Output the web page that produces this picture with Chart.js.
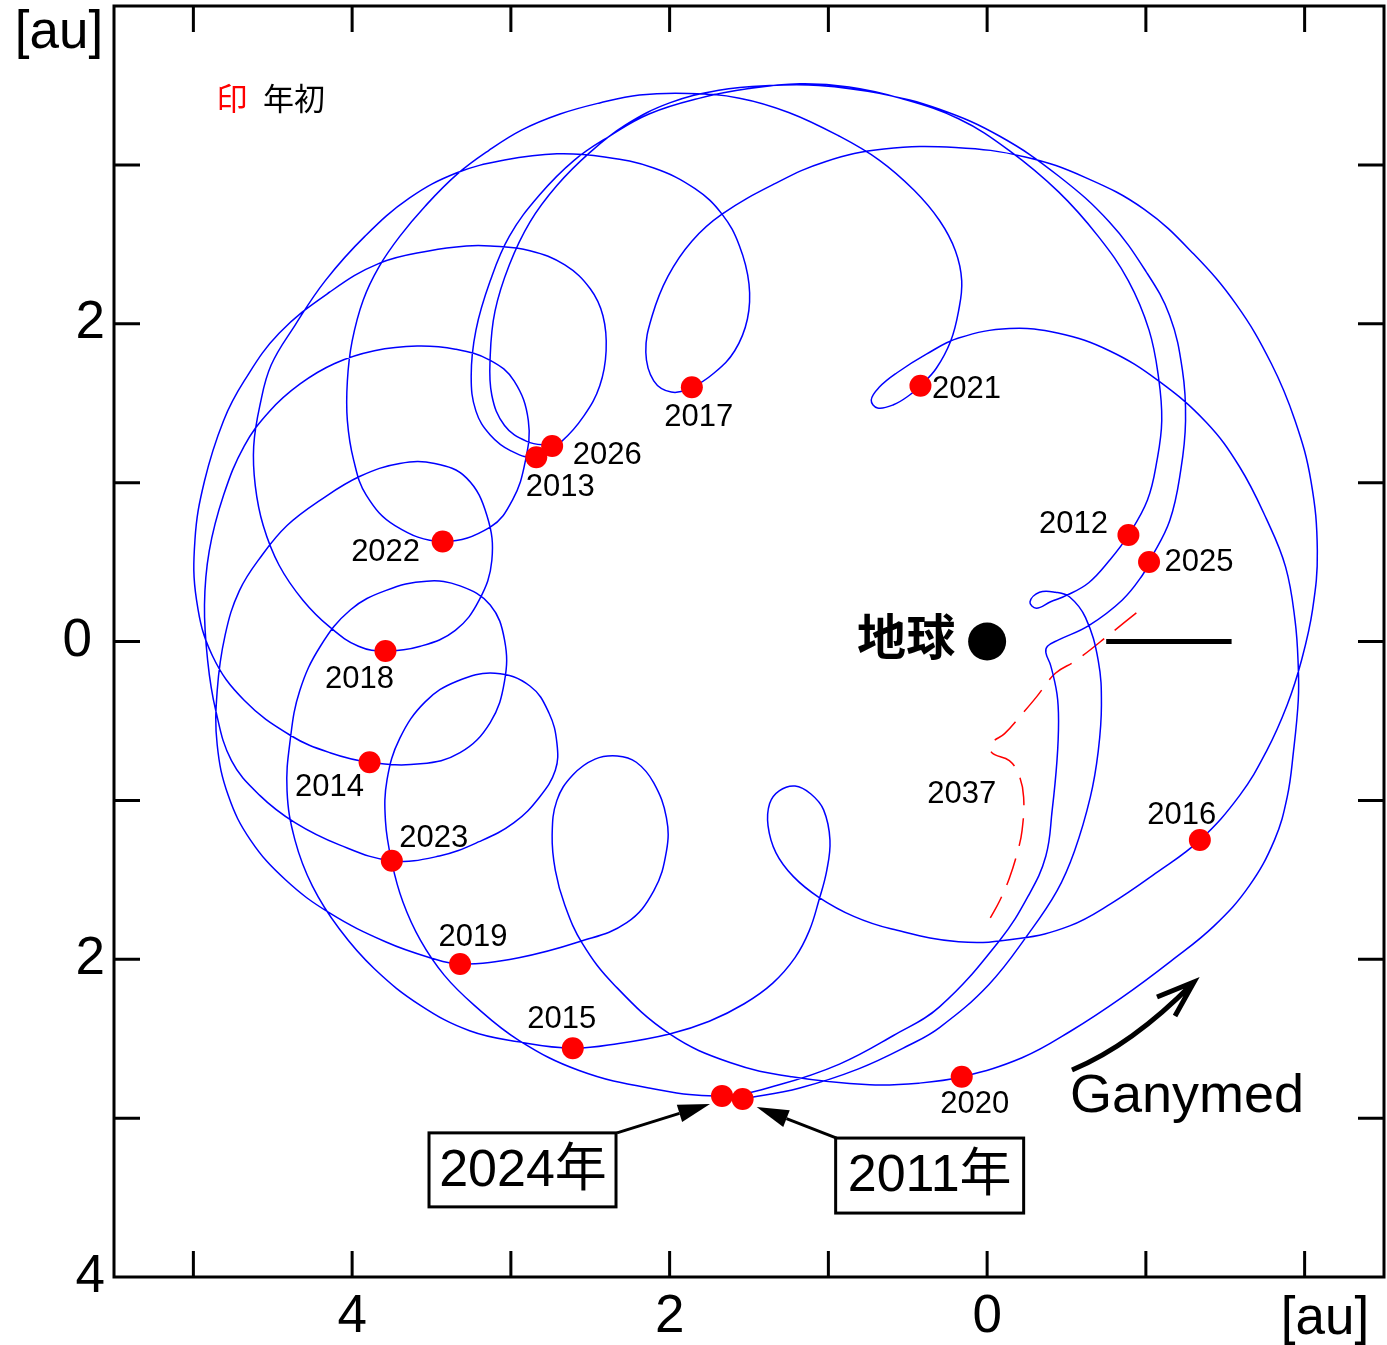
<!DOCTYPE html>
<html>
<head>
<meta charset="utf-8">
<script src="https://cdn.jsdelivr.net/npm/chart.js@4"></script>
<style>
  html, body { margin: 0; padding: 0; background: #fff; overflow: hidden; }
  canvas { display: block; }
</style>
</head>
<body>
<canvas id="orbit" width="1387" height="1345"></canvas>
<script>
// geocentric positions [au], one array per year (Jan 1 -> Jan 1)
const years = ["2011","2012","2013","2014","2015","2016","2017","2018","2019","2020","2021","2022","2023","2024","2025","2026"];
const markerX = [1.54,-0.89,2.84,3.89,2.61,-1.34,1.86,3.79,3.32,0.16,0.42,3.43,3.75,1.67,-1.02,2.74];
const markerY = [-2.88,0.67,1.16,-0.76,-2.56,-1.25,1.60,-0.06,-2.03,-2.74,1.61,0.63,-1.38,-2.86,0.50,1.23];

const path2011 = [[1.54,-2.88],[1.18,-2.81],[0.81,-2.69],[0.49,-2.54],[0.30,-2.43],[-0.01,-2.16],[-0.26,-1.84],[-0.44,-1.57],[-0.55,-1.32],[-0.65,-0.98],[-0.70,-0.69],[-0.72,-0.40],[-0.70,-0.12],[-0.62,0.15],[-0.52,0.28],[-0.43,0.31],[-0.33,0.31],[-0.27,0.25],[-0.31,0.21],[-0.40,0.25],[-0.50,0.29],[-0.64,0.37],[-0.77,0.51],[-0.89,0.67]];
const path2012 = [[-1.01,0.89],[-1.07,1.14],[-1.10,1.39],[-1.08,1.66],[-1.02,1.96],[-0.89,2.27],[-0.70,2.55],[-0.45,2.83],[-0.14,3.09],[0.18,3.29],[0.55,3.42],[0.87,3.49],[1.18,3.51],[1.50,3.48],[1.81,3.42],[2.13,3.32],[2.38,3.18],[2.60,3.03],[2.82,2.81],[3.01,2.55],[3.13,2.27],[3.22,1.96],[3.25,1.67],[3.22,1.45],[3.13,1.30],[3.00,1.20],[2.84,1.16]];
const path2013 = [[2.68,1.26],[2.54,1.42],[2.44,1.61],[2.40,1.83],[2.42,2.05],[2.50,2.22],[2.66,2.37],[2.88,2.46],[3.13,2.49],[3.28,2.49],[3.51,2.46],[3.83,2.38],[4.14,2.20],[4.46,1.94],[4.68,1.64],[4.81,1.39],[4.93,1.01],[4.99,0.64],[4.98,0.26],[4.88,-0.09],[4.68,-0.37],[4.39,-0.59],[4.14,-0.70],[3.89,-0.76]];
const path2014 = [[3.57,-0.77],[3.32,-0.70],[3.13,-0.51],[3.04,-0.25],[3.04,0.01],[3.13,0.23],[3.32,0.35],[3.53,0.38],[3.79,0.32],[4.01,0.20],[4.20,-0.03],[4.33,-0.31],[4.39,-0.62],[4.41,-0.94],[4.36,-1.25],[4.25,-1.54],[4.08,-1.81],[3.86,-2.06],[3.57,-2.29],[3.26,-2.45],[2.95,-2.52],[2.61,-2.56]];
const path2015 = [[2.32,-2.53],[2.00,-2.47],[1.75,-2.39],[1.53,-2.28],[1.35,-2.15],[1.21,-1.99],[1.12,-1.82],[1.06,-1.63],[1.01,-1.44],[0.99,-1.25],[1.03,-1.06],[1.11,-0.96],[1.21,-0.91],[1.31,-0.94],[1.37,-1.02],[1.38,-1.16],[1.33,-1.33],[1.22,-1.48],[1.06,-1.61],[0.84,-1.73],[0.60,-1.81],[0.18,-1.89],[-0.20,-1.87],[-0.52,-1.79],[-0.78,-1.65],[-1.06,-1.46],[-1.34,-1.25]];
const path2016 = [[-1.59,-0.97],[-1.76,-0.69],[-1.89,-0.40],[-1.98,-0.12],[-2.05,0.20],[-2.08,0.57],[-2.04,1.01],[-1.94,1.39],[-1.79,1.75],[-1.57,2.12],[-1.30,2.44],[-0.99,2.72],[-0.62,2.92],[-0.24,3.05],[0.20,3.11],[0.65,3.10],[1.02,3.02],[1.34,2.88],[1.67,2.69],[1.86,2.52],[2.01,2.30],[2.11,2.05],[2.15,1.82],[2.10,1.64],[1.99,1.57],[1.86,1.60]];
const path2017 = [[1.72,1.69],[1.59,1.83],[1.51,2.03],[1.50,2.25],[1.56,2.49],[1.67,2.69],[1.84,2.85],[2.10,2.98],[2.41,3.05],[2.71,3.07],[3.04,3.03],[3.34,2.95],[3.64,2.79],[3.92,2.55],[4.17,2.27],[4.36,1.99],[4.51,1.74],[4.58,1.49],[4.62,1.23],[4.61,0.98],[4.56,0.73],[4.46,0.48],[4.31,0.26],[4.14,0.09],[3.96,-0.03],[3.79,-0.06]];
const path2018 = [[3.57,-0.03],[3.35,0.07],[3.20,0.26],[3.12,0.51],[3.15,0.79],[3.28,1.03],[3.48,1.12],[3.70,1.12],[3.95,1.04],[4.20,0.89],[4.41,0.73],[4.57,0.54],[4.71,0.32],[4.80,0.04],[4.85,-0.31],[4.85,-0.65],[4.78,-0.97],[4.64,-1.25],[4.42,-1.50],[4.14,-1.71],[3.79,-1.89],[3.51,-1.99],[3.32,-2.03]];
const path2019 = [[2.95,-1.99],[2.57,-1.89],[2.27,-1.77],[2.10,-1.57],[2.02,-1.32],[2.02,-1.11],[2.10,-0.89],[2.21,-0.76],[2.33,-0.72],[2.47,-0.74],[2.61,-0.84],[2.71,-1.00],[2.74,-1.22],[2.72,-1.44],[2.66,-1.66],[2.55,-1.90],[2.35,-2.16],[2.00,-2.47],[1.62,-2.65],[1.23,-2.74],[0.74,-2.79],[0.43,-2.78],[0.16,-2.74]];
const path2020 = [[-0.22,-2.62],[-0.53,-2.45],[-0.85,-2.24],[-1.16,-2.01],[-1.43,-1.79],[-1.65,-1.54],[-1.81,-1.25],[-1.89,-0.98],[-1.93,-0.69],[-1.96,-0.37],[-1.96,-0.16],[-1.94,0.13],[-1.88,0.47],[-1.76,0.77],[-1.59,1.10],[-1.38,1.38],[-1.08,1.64],[-0.77,1.83],[-0.45,1.94],[-0.14,1.97],[0.18,1.91],[0.38,1.81],[0.57,1.69],[0.68,1.60],[0.73,1.52],[0.69,1.47],[0.59,1.49],[0.49,1.55],[0.42,1.61]];
const path2021 = [[0.32,1.72],[0.23,1.89],[0.18,2.08],[0.16,2.27],[0.20,2.46],[0.30,2.65],[0.46,2.84],[0.68,3.03],[0.93,3.18],[1.25,3.33],[1.56,3.42],[1.88,3.45],[2.19,3.44],[2.44,3.39],[2.69,3.32],[2.93,3.22],[3.14,3.09],[3.34,2.94],[3.54,2.74],[3.70,2.55],[3.83,2.36],[3.93,2.15],[4.00,1.89],[4.03,1.64],[4.03,1.39],[3.99,1.14],[3.91,0.92],[3.73,0.73],[3.43,0.63]];
const path2022 = [[3.13,0.72],[2.99,0.89],[2.91,1.13],[2.89,1.39],[2.98,1.64],[3.13,1.77],[3.35,1.84],[3.59,1.86],[3.86,1.83],[4.11,1.75],[4.33,1.62],[4.52,1.45],[4.68,1.23],[4.81,0.92],[4.90,0.57],[4.93,0.23],[4.91,-0.12],[4.86,-0.43],[4.76,-0.75],[4.58,-0.97],[4.36,-1.14],[4.08,-1.28],[3.75,-1.38]];
const path2023 = [[3.45,-1.35],[3.20,-1.26],[2.98,-1.14],[2.82,-0.98],[2.72,-0.81],[2.71,-0.64],[2.76,-0.45],[2.88,-0.28],[3.10,-0.20],[3.34,-0.25],[3.54,-0.38],[3.70,-0.61],[3.78,-0.87],[3.79,-1.13],[3.75,-1.39],[3.68,-1.64],[3.57,-1.88],[3.42,-2.10],[3.23,-2.29],[2.95,-2.51],[2.57,-2.70],[2.13,-2.81],[1.67,-2.86]];
const path2024 = [[1.31,-2.79],[0.93,-2.66],[0.59,-2.48],[0.30,-2.30],[-0.08,-1.88],[-0.26,-1.60],[-0.37,-1.35],[-0.41,-1.06],[-0.44,-0.75],[-0.45,-0.50],[-0.44,-0.33],[-0.40,-0.15],[-0.37,-0.07],[-0.38,-0.03],[-0.45,0.01],[-0.64,0.10],[-0.85,0.26],[-0.98,0.42],[-1.02,0.50]];
const path2025 = [[-1.15,0.76],[-1.22,1.08],[-1.25,1.39],[-1.23,1.71],[-1.15,2.05],[-1.00,2.33],[-0.77,2.64],[-0.45,2.93],[-0.08,3.18],[0.30,3.35],[0.68,3.45],[1.06,3.50],[1.37,3.50],[1.69,3.47],[2.00,3.39],[2.28,3.25],[2.50,3.08],[2.71,2.87],[2.88,2.64],[3.01,2.37],[3.10,2.08],[3.13,1.80],[3.12,1.55],[3.04,1.36],[2.90,1.26],[2.74,1.23]];

// red dashed track near 2037
const track2037 = [[-0.94,0.18],[-0.79,0.06],[-0.56,-0.12],[-0.43,-0.20],[-0.31,-0.35],[-0.20,-0.48],[-0.11,-0.58],[-0.03,-0.64],[-0.03,-0.70],[-0.14,-0.75],[-0.20,-0.84],[-0.23,-0.98],[-0.22,-1.19],[-0.19,-1.33],[-0.14,-1.49],[-0.08,-1.63],[-0.02,-1.74]];
const label2037 = [0.16, -0.96];

const earthX = [0], earthY = [0];
const barX = [-0.75, -1.54], barY = [0, 0];

const xTickLabels = [4, 2, 0];
const yTickLabels = [2, 0, -2, -4];

const segments = [path2011, path2012, path2013, path2014, path2015, path2016, path2017, path2018,
  path2019, path2020, path2021, path2022, path2023, path2024, path2025];
const orbitPts = segments.flat().map(p => ({ x: p[0], y: p[1] }));
const markerPts = markerX.map((x, i) => ({ x, y: markerY[i] }));

// label offsets in px from each marker (boxed labels handled separately)
const labelOffset = {
  "2012": [-55, -11], "2013": [24, 30], "2014": [-40, 25], "2015": [-11, -29],
  "2016": [-18, -25], "2017": [7, 30], "2018": [-26, 28], "2019": [13, -27],
  "2020": [13, 28], "2021": [46, 4], "2022": [-57, 11], "2023": [42, -22],
  "2025": [50, 0], "2026": [55, 9]
};

const LATIN = "'Liberation Sans', Arial, 'Noto Sans CJK JP', sans-serif";

function arrowHead(ctx, x0, y0, x1, y1, len, half) {
  const a = Math.atan2(y1 - y0, x1 - x0);
  const bx = x1 - len * Math.cos(a), by = y1 - len * Math.sin(a);
  ctx.beginPath();
  ctx.moveTo(x0, y0);
  ctx.lineTo(bx, by);
  ctx.stroke();
  ctx.beginPath();
  ctx.moveTo(x1, y1);
  ctx.lineTo(bx + half * Math.sin(a), by - half * Math.cos(a));
  ctx.lineTo(bx - half * Math.sin(a), by + half * Math.cos(a));
  ctx.closePath();
  ctx.fill();
}

const decor = {
  id: 'decor',
  afterDatasetsDraw(chart) {
    const { ctx, chartArea: a, scales: { x, y } } = chart;
    ctx.save();
    ctx.strokeStyle = '#000';
    ctx.fillStyle = '#000';

    // frame + inward ticks on all four sides
    ctx.lineWidth = 3;
    ctx.strokeRect(a.left, a.top, a.right - a.left, a.bottom - a.top);
    ctx.beginPath();
    for (let v = -2; v <= 5; v++) {
      const px = x.getPixelForValue(v);
      ctx.moveTo(px, a.top); ctx.lineTo(px, a.top + 26);
      ctx.moveTo(px, a.bottom); ctx.lineTo(px, a.bottom - 26);
    }
    for (let v = -3; v <= 3; v++) {
      const py = y.getPixelForValue(v);
      ctx.moveTo(a.left, py); ctx.lineTo(a.left + 26, py);
      ctx.moveTo(a.right, py); ctx.lineTo(a.right - 26, py);
    }
    ctx.stroke();

    // tick labels (absolute values)
    ctx.font = '53px ' + LATIN;
    ctx.textBaseline = 'middle';
    ctx.textAlign = 'center';
    xTickLabels.forEach(v => ctx.fillText(String(Math.abs(v)), x.getPixelForValue(v), a.bottom + 40));
    ctx.fillText('[au]', a.right - 59, a.bottom + 42);
    ctx.textAlign = 'right';
    yTickLabels.forEach(v => {
      const px = v === 0 ? a.left - 22 : a.left - 9;
      ctx.fillText(String(Math.abs(v)), px, y.getPixelForValue(v));
    });
    ctx.textAlign = 'center';
    ctx.fillText('[au]', a.left - 55, a.top + 27);

    // legend
    ctx.font = '31px ' + LATIN;
    ctx.fillStyle = '#ff0000';
    ctx.fillText('印', a.left + 118, a.top + 95);
    ctx.fillStyle = '#000';
    ctx.fillText('年初', a.left + 180, a.top + 95);

    // year labels
    ctx.font = '31px ' + LATIN;
    years.forEach((yr, i) => {
      const off = labelOffset[yr];
      if (!off) return;
      ctx.fillText(yr, x.getPixelForValue(markerX[i]) + off[0], y.getPixelForValue(markerY[i]) + off[1]);
    });
    ctx.fillText('2037', x.getPixelForValue(label2037[0]), y.getPixelForValue(label2037[1]));

    // Earth label
    const ex = x.getPixelForValue(earthX[0]), ey = y.getPixelForValue(earthY[0]);
    ctx.font = 'bold 49px ' + LATIN;
    ctx.textAlign = 'right';
    ctx.fillText('地球', ex - 32, ey);
    ctx.textAlign = 'center';

    // boxed start labels with arrows
    const m24 = [x.getPixelForValue(markerX[13]), y.getPixelForValue(markerY[13])];
    const m11 = [x.getPixelForValue(markerX[0]), y.getPixelForValue(markerY[0])];
    ctx.lineWidth = 3;
    ctx.strokeRect(m24[0] - 293, m24[1] + 37, 187, 74);
    ctx.strokeRect(m11[0] + 93, m11[1] + 39, 188, 75);
    ctx.font = '52px ' + LATIN;
    ctx.fillText('2024年', m24[0] - 199, m24[1] + 76);
    ctx.fillText('2011年', m11[0] + 187, m11[1] + 78);
    arrowHead(ctx, m24[0] - 105, m24[1] + 37, m24[0] - 12, m24[1] + 8, 32, 9);
    arrowHead(ctx, m11[0] + 94, m11[1] + 39, m11[0] + 14, m11[1] + 8, 32, 9);

    // Ganymed label with curved arrow
    ctx.font = '54px ' + LATIN;
    ctx.fillText('Ganymed', a.right - 197, 1097);
    ctx.lineWidth = 5;
    ctx.beginPath();
    ctx.moveTo(1072, 1070);
    ctx.quadraticCurveTo(1132, 1045, 1193, 983);
    ctx.moveTo(1157, 997);
    ctx.lineTo(1194, 982);
    ctx.lineTo(1175, 1016);
    ctx.stroke();

    ctx.restore();
  }
};

new Chart(document.getElementById('orbit'), {
  type: 'scatter',
  data: {
    datasets: [
      {
        label: 'markers',
        data: markerPts,
        backgroundColor: '#ff0000',
        borderWidth: 0,
        pointRadius: 11,
        order: 0,
      },
      {
        label: 'earth',
        data: earthX.map((v, i) => ({ x: v, y: earthY[i] })),
        backgroundColor: '#000',
        borderWidth: 0,
        pointRadius: 19,
        order: 1,
      },
      {
        label: 'bar',
        data: barX.map((v, i) => ({ x: v, y: barY[i] })),
        showLine: true,
        borderColor: '#000',
        borderWidth: 5,
        pointRadius: 0,
        order: 2,
      },
      {
        label: 'Ganymed',
        data: orbitPts,
        showLine: true,
        borderColor: '#0000ff',
        borderWidth: 1.5,
        pointRadius: 0,
        tension: 0.4,
        order: 3,
      },
      {
        label: '2037',
        data: track2037.map(p => ({ x: p[0], y: p[1] })),
        showLine: true,
        borderColor: '#ff0000',
        borderWidth: 1.5,
        borderDash: [28, 13],
        pointRadius: 0,
        tension: 0.4,
        order: 4,
      },
    ],
  },
  options: {
    responsive: false,
    animation: false,
    devicePixelRatio: 1,
    layout: { autoPadding: false, padding: { left: 114, right: 3, top: 6, bottom: 68 } },
    plugins: { legend: { display: false }, tooltip: { enabled: false } },
    scales: {
      x: { type: 'linear', min: -2.5, max: 5.5, reverse: true, display: false },
      y: { type: 'linear', min: -4, max: 4, display: false },
    },
  },
  plugins: [decor],
});
</script>
</body>
</html>
